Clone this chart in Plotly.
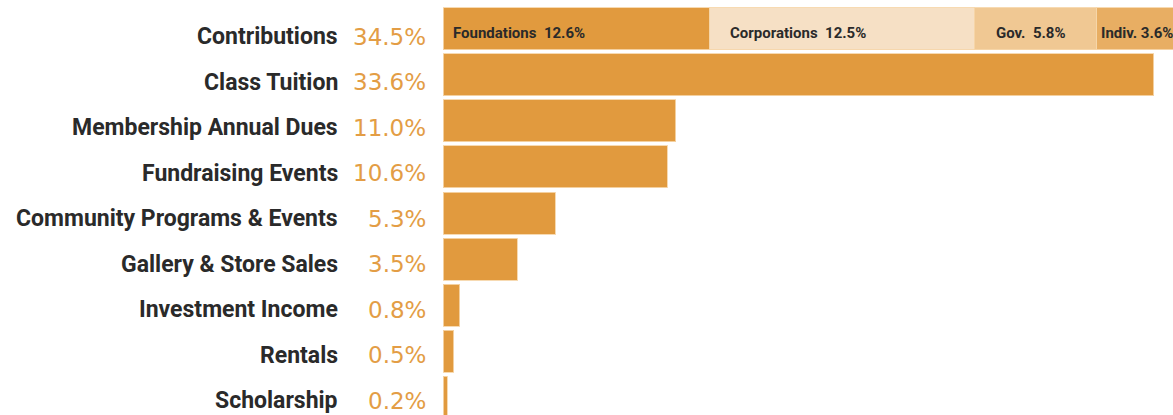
import plotly.graph_objects as go

categories = ["Contributions", "Class Tuition", "Membership Annual Dues", "Fundraising Events",
              "Community Programs & Events", "Gallery & Store Sales", "Investment Income",
              "Rentals", "Scholarship"]
values = [34.5, 33.6, 11.0, 10.6, 5.3, 3.5, 0.8, 0.5, 0.2]
pct_labels = ["34.5%", "33.6%", "11.0%", "10.6%", "5.3%", "3.5%", "0.8%", "0.5%", "0.2%"]

seg_names = ["Foundations", "Corporations", "Gov.", "Indiv."]
seg_values = [12.6, 12.5, 5.8, 3.6]
seg_labels = ["Foundations  12.6%", "Corporations  12.5%", "Gov.  5.8%", "Indiv. 3.6%"]
seg_colors = ["#E19A3E", "#F6E0C5", "#F0C893", "#E8AE63"]
seg_xshift = [8, 18, 20, 2]

BAR = "#E19A3E"
EDGE = "rgba(246,214,170,0.9)"
DARK = "#2a2a2a"

fig = go.Figure()

# Contributions broken into segments
for name, v, c in zip(seg_names, seg_values, seg_colors):
    fig.add_trace(go.Bar(
        y=[categories[0]], x=[v], orientation="h", name=name,
        marker=dict(color=c, line=dict(color=EDGE, width=1)),
        hoverinfo="x+name",
    ))

# Other categories
fig.add_trace(go.Bar(
    y=categories[1:], x=values[1:], orientation="h", name="Revenue",
    marker=dict(color=BAR, line=dict(color=EDGE, width=1)),
))

annotations = []
# segment labels
start = 0.0
for lab, v, xs in zip(seg_labels, seg_values, seg_xshift):
    annotations.append(dict(
        x=start, y=categories[0], xref="x", yref="y", text="<b>%s</b>" % lab, showarrow=False,
        xanchor="left", yanchor="middle", xshift=xs, yshift=-4,
        font=dict(family="Roboto", size=15, color=DARK),
    ))
    start += v

# left-hand category labels and percentages
for cat, p in zip(categories, pct_labels):
    annotations.append(dict(
        x=-0.1411, y=cat, xref="paper", yref="y2", text="<b>%s</b>" % cat, showarrow=False,
        xanchor="right", yanchor="middle",
        font=dict(family="Roboto", size=23, color=DARK),
    ))
    annotations.append(dict(
        x=-0.0206, y=cat, xref="paper", yref="y2", text=p, showarrow=False,
        xanchor="right", yanchor="middle",
        font=dict(family="DejaVu Sans", size=23, color="#E39D45"),
    ))

fig.update_layout(
    width=1173, height=415,
    margin=dict(l=443, r=0, t=0, b=0),
    paper_bgcolor="white", plot_bgcolor="white",
    barmode="stack", bargap=0.087,
    showlegend=False,
    xaxis=dict(range=[0, 34.5], visible=False, fixedrange=True),
    yaxis=dict(type="category", categoryorder="array", categoryarray=categories,
               range=[8.391, -0.630], visible=False, fixedrange=True),
    yaxis2=dict(type="category", categoryorder="array", categoryarray=categories,
                range=[8.308, -0.813], overlaying="y", visible=False, fixedrange=True),
    annotations=annotations,
)

fig.write_html(
    "out.html",
    config={"displayModeBar": False},
    post_script="document.body.style.margin='0';document.body.style.overflow='hidden';",
)
